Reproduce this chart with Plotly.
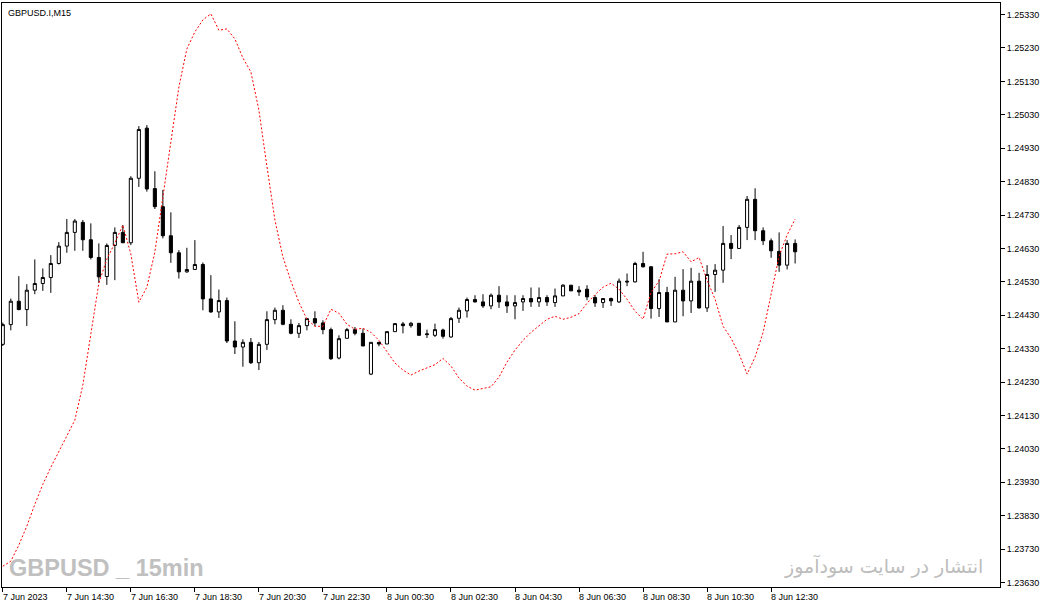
import plotly.graph_objects as go

symbol_label = "GBPUSD.I,M15"
watermark_left = "GBPUSD _ 15min"
watermark_right = "انتشار در سایت سودآموز"

# bar index of each time label (M15 bars, one label every 8 bars)
tick_idx = [0, 8, 16, 24, 32, 40, 48, 56, 64, 72, 80, 88, 96]
tick_text = ["7 Jun 2023", "7 Jun 14:30", "7 Jun 16:30", "7 Jun 18:30", "7 Jun 20:30",
             "7 Jun 22:30", "8 Jun 00:30", "8 Jun 02:30", "8 Jun 04:30", "8 Jun 06:30",
             "8 Jun 08:30", "8 Jun 10:30", "8 Jun 12:30"]

price_ticks = [1.23630, 1.23730, 1.23830, 1.23930, 1.24030, 1.24130, 1.24230, 1.24330, 1.24430,
               1.24530, 1.24630, 1.24730, 1.24830, 1.24930, 1.25030, 1.25130, 1.25230, 1.25330]

opens = [1.24343, 1.24402, 1.24472, 1.24447, 1.24505, 1.24525, 1.24543, 1.24585, 1.24637, 1.24678,
         1.24708, 1.24656, 1.24603, 1.24546, 1.24639, 1.24678, 1.24647, 1.24840, 1.24990, 1.24809,
         1.24755, 1.24668, 1.24617, 1.24560, 1.24567, 1.24582, 1.24479, 1.24440, 1.24474, 1.24353,
         1.24335, 1.24349, 1.24288, 1.24343, 1.24417, 1.24445, 1.24403, 1.24376, 1.24399, 1.24420,
         1.24407, 1.24387, 1.24302, 1.24361, 1.24387, 1.24376, 1.24254, 1.24349, 1.24344, 1.24381,
         1.24404, 1.24399, 1.24406, 1.24372, 1.24370, 1.24386, 1.24365, 1.24421, 1.24443, 1.24477,
         1.24470, 1.24458, 1.24490, 1.24470, 1.24458, 1.24470, 1.24480, 1.24470, 1.24483, 1.24468,
         1.24488, 1.24520, 1.24505, 1.24508, 1.24483, 1.24468, 1.24480, 1.24470, 1.24532, 1.24530,
         1.24585, 1.24575, 1.24450, 1.24498, 1.24410, 1.24505, 1.24473, 1.24532, 1.24452, 1.24552,
         1.24565, 1.24645, 1.24630, 1.24693, 1.24777, 1.24683, 1.24653, 1.24621, 1.24580, 1.24645]

highs = [1.24408, 1.24480, 1.24547, 1.24523, 1.24597, 1.24570, 1.24610, 1.24649, 1.24718, 1.24718,
         1.24715, 1.24705, 1.24645, 1.24645, 1.24693, 1.24700, 1.24846, 1.24996, 1.24999, 1.24861,
         1.24805, 1.24738, 1.24625, 1.24632, 1.24655, 1.24588, 1.24550, 1.24507, 1.24483, 1.24412,
         1.24358, 1.24362, 1.24350, 1.24442, 1.24453, 1.24460, 1.24418, 1.24407, 1.24420, 1.24442,
         1.24415, 1.24393, 1.24370, 1.24392, 1.24395, 1.24390, 1.24349, 1.24349, 1.24381, 1.24405,
         1.24410, 1.24410, 1.24406, 1.24387, 1.24405, 1.24390, 1.24425, 1.24453, 1.24483, 1.24490,
         1.24493, 1.24495, 1.24517, 1.24490, 1.24490, 1.24490, 1.24513, 1.24513, 1.24490, 1.24510,
         1.24523, 1.24520, 1.24517, 1.24520, 1.24490, 1.24480, 1.24483, 1.24540, 1.24555, 1.24590,
         1.24620, 1.24577, 1.24538, 1.24515, 1.24545, 1.24568, 1.24572, 1.24557, 1.24580, 1.24583,
         1.24697, 1.24670, 1.24700, 1.24787, 1.24810, 1.24693, 1.24660, 1.24678, 1.24655, 1.24657]

lows = [1.24338, 1.24385, 1.24445, 1.24398, 1.24493, 1.24503, 1.24497, 1.24582, 1.24617, 1.24623,
        1.24623, 1.24597, 1.24527, 1.24521, 1.24535, 1.24647, 1.24640, 1.24814, 1.24800, 1.24748,
        1.24660, 1.24587, 1.24540, 1.24557, 1.24567, 1.24445, 1.24437, 1.24422, 1.24347, 1.24314,
        1.24276, 1.24284, 1.24266, 1.24326, 1.24403, 1.24400, 1.24373, 1.24362, 1.24385, 1.24397,
        1.24373, 1.24296, 1.24298, 1.24361, 1.24370, 1.24338, 1.24251, 1.24337, 1.24344, 1.24381,
        1.24376, 1.24393, 1.24370, 1.24362, 1.24365, 1.24360, 1.24363, 1.24407, 1.24423, 1.24468,
        1.24452, 1.24448, 1.24452, 1.24437, 1.24418, 1.24443, 1.24455, 1.24455, 1.24458, 1.24455,
        1.24487, 1.24503, 1.24488, 1.24475, 1.24455, 1.24452, 1.24458, 1.24467, 1.24517, 1.24528,
        1.24573, 1.24420, 1.24425, 1.24410, 1.24410, 1.24427, 1.24437, 1.24450, 1.24440, 1.24500,
        1.24527, 1.24598, 1.24630, 1.24655, 1.24655, 1.24640, 1.24602, 1.24560, 1.24567, 1.24585]

closes = [1.24402, 1.24472, 1.24447, 1.24505, 1.24525, 1.24543, 1.24585, 1.24637, 1.24678, 1.24712,
          1.24656, 1.24603, 1.24545, 1.24639, 1.24678, 1.24647, 1.24840, 1.24986, 1.24808, 1.24755,
          1.24668, 1.24617, 1.24560, 1.24567, 1.24582, 1.24479, 1.24440, 1.24474, 1.24353, 1.24335,
          1.24349, 1.24288, 1.24343, 1.24417, 1.24445, 1.24403, 1.24376, 1.24399, 1.24420, 1.24407,
          1.24387, 1.24300, 1.24360, 1.24387, 1.24376, 1.24338, 1.24349, 1.24344, 1.24381, 1.24405,
          1.24399, 1.24406, 1.24370, 1.24374, 1.24387, 1.24367, 1.24420, 1.24445, 1.24477, 1.24470,
          1.24458, 1.24490, 1.24470, 1.24458, 1.24468, 1.24480, 1.24470, 1.24483, 1.24470, 1.24488,
          1.24520, 1.24503, 1.24500, 1.24485, 1.24467, 1.24480, 1.24473, 1.24532, 1.24530, 1.24585,
          1.24575, 1.24450, 1.24498, 1.24410, 1.24505, 1.24473, 1.24532, 1.24452, 1.24552, 1.24565,
          1.24645, 1.24630, 1.24693, 1.24777, 1.24683, 1.24653, 1.24623, 1.24580, 1.24645, 1.24620]

# red dotted indicator line
signal = [1.23679, 1.23694, 1.23742, 1.23799, 1.23864, 1.23924, 1.23975, 1.24023, 1.24068, 1.24116,
          1.24221, 1.24373, 1.24526, 1.24598, 1.24646, 1.24700, 1.24613, 1.24469, 1.24514, 1.24619,
          1.24787, 1.24960, 1.25113, 1.25227, 1.25278, 1.25314, 1.25332, 1.25283, 1.25287, 1.25257,
          1.25200, 1.25158, 1.25044, 1.24876, 1.24715, 1.24604, 1.24532, 1.24469, 1.24418, 1.24397,
          1.24397, 1.24448, 1.24436, 1.24403, 1.24388, 1.24391, 1.24379, 1.24355, 1.24320, 1.24287,
          1.24266, 1.24251, 1.24263, 1.24273, 1.24282, 1.24301, 1.24278, 1.24242, 1.24218, 1.24206,
          1.24212, 1.24216, 1.24245, 1.24290, 1.24326, 1.24355, 1.24379, 1.24399, 1.24418, 1.24427,
          1.24418, 1.24424, 1.24435, 1.24466, 1.24492, 1.24514, 1.24526, 1.24508, 1.24478, 1.24442,
          1.24418, 1.24499, 1.24532, 1.24613, 1.24614, 1.24620, 1.24590, 1.24603, 1.24535, 1.24478,
          1.24397, 1.24361, 1.24314, 1.24254, 1.24305, 1.24379, 1.24496, 1.24607, 1.24670, 1.24718]

bars = list(range(len(opens)))
small_font = dict(family="Liberation Sans, Arial, sans-serif", size=9, color="black")

fig = go.Figure()
fig.add_trace(go.Candlestick(
    x=bars, open=opens, high=highs, low=lows, close=closes,
    increasing=dict(fillcolor="white", line=dict(color="black", width=1)),
    decreasing=dict(fillcolor="black", line=dict(color="black", width=1)),
    whiskerwidth=0, hoverinfo="skip", showlegend=False))
fig.add_trace(go.Scatter(
    x=bars, y=signal, mode="lines",
    line=dict(color="#ff0000", width=1, dash="2px,2px"),
    hoverinfo="skip", showlegend=False))

fig.update_layout(
    width=1046, height=608,
    margin=dict(l=2, r=46, t=3, b=21),
    paper_bgcolor="white", plot_bgcolor="white",
    boxgap=0.45,
    showlegend=False,
    font=small_font,
)
fig.update_xaxes(
    range=[-0.1, 124.6], rangeslider=dict(visible=False),
    showgrid=False, zeroline=False,
    showline=True, linecolor="black", linewidth=1, mirror=True,
    tickvals=tick_idx, ticks="outside", ticklen=4, tickcolor="black",
    showticklabels=False,
)
fig.update_yaxes(
    range=[1.236168, 1.253645], side="right",
    showgrid=False, zeroline=False,
    showline=True, linecolor="black", linewidth=1, mirror=True,
    tickvals=price_ticks, ticktext=[f"{p:.5f}" for p in price_ticks],
    ticks="outside", ticklen=4, tickcolor="black", tickfont=small_font,
)

# time labels start at their tick, like the terminal does
for idx, label in zip(tick_idx, tick_text):
    fig.add_annotation(x=idx, y=0, xref="x", yref="paper", text=label,
                       showarrow=False, xanchor="left", yanchor="top",
                       xshift=-2, yshift=-3, font=small_font)

fig.add_annotation(x=0.004, y=0.995, xref="paper", yref="paper", text=symbol_label,
                   showarrow=False, xanchor="left", yanchor="top", font=small_font)

fig.add_annotation(x=0.005, y=0.033, xref="paper", yref="paper", text="<b>" + watermark_left + "</b>",
                   showarrow=False, xanchor="left", yanchor="middle",
                   font=dict(family="Liberation Sans Narrow, Arial Narrow, Liberation Sans, sans-serif",
                             size=23.5, color="#c0c0c0"))
fig.add_annotation(x=0.985, y=0.036, xref="paper", yref="paper", text=watermark_right,
                   showarrow=False, xanchor="right", yanchor="middle",
                   font=dict(family="DejaVu Sans, sans-serif", size=19, color="#bdbdbd"))

# page has a default 8px body margin; drop it so the chart fills the window
fig.write_html("out.html", config={"displayModeBar": False},
               post_script="document.body.style.margin='0';document.body.style.overflow='hidden';")
